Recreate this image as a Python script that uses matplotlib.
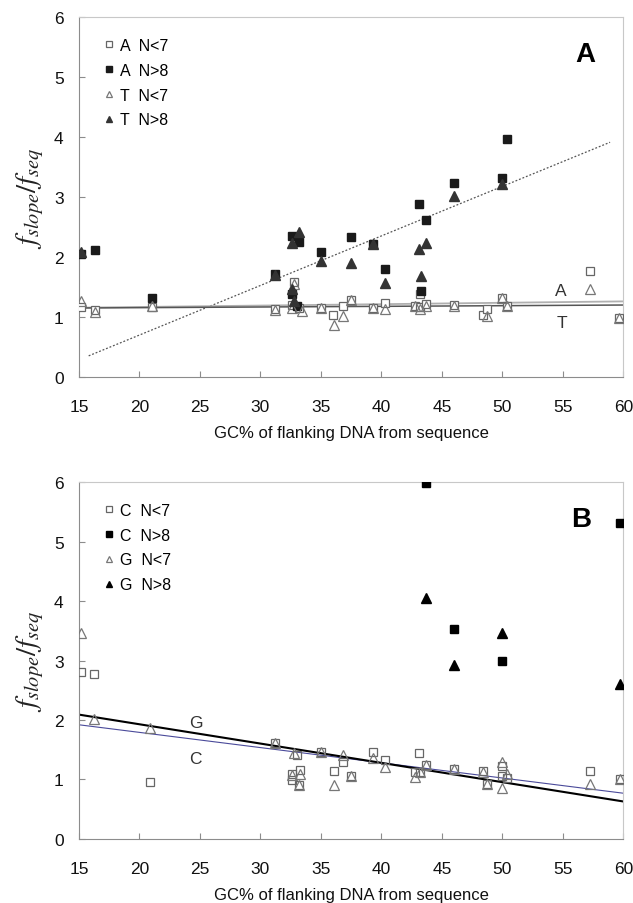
import numpy as np
import matplotlib
matplotlib.use('Agg')
import matplotlib.pyplot as plt

plt.rcParams['font.family'] = ['Liberation Sans', 'DejaVu Sans']
plt.rcParams['mathtext.fontset'] = 'stix'

### panel A data (x = GC%, y = fslope/fseq)
a_low_x = [15.2, 16.3, 21.0, 31.2, 32.6, 32.8, 33.2, 35.0, 36.0, 36.8, 37.5, 39.3, 40.3, 42.8, 43.2, 43.2, 43.7, 46.0, 48.4, 48.7, 50.0, 50.4, 57.2, 59.6]
a_low_y = [1.16, 1.12, 1.16, 1.13, 1.20, 1.58, 1.15, 1.15, 1.04, 1.19, 1.28, 1.15, 1.24, 1.19, 1.38, 1.17, 1.21, 1.20, 1.03, 1.14, 1.32, 1.19, 1.76, 0.98]
t_low_x = [15.2, 16.3, 21.0, 31.2, 32.6, 32.8, 33.4, 35.0, 36.1, 36.8, 37.5, 39.3, 40.3, 42.8, 43.2, 43.7, 46.0, 48.7, 50.0, 50.4, 57.2, 59.6]
t_low_y = [1.26, 1.09, 1.18, 1.12, 1.15, 1.55, 1.10, 1.15, 0.87, 1.02, 1.28, 1.15, 1.14, 1.18, 1.14, 1.19, 1.19, 1.01, 1.31, 1.18, 1.47, 0.98]
a_high_x = [15.2, 16.3, 21.0, 31.2, 32.6, 32.6, 33.0, 33.2, 35.0, 37.5, 39.3, 40.3, 43.1, 43.3, 43.7, 46.0, 50.0, 50.4]
a_high_y = [2.05, 2.11, 1.32, 1.72, 2.35, 1.38, 1.19, 2.25, 2.08, 2.33, 2.21, 1.80, 2.89, 1.44, 2.62, 3.23, 3.32, 3.97]
t_high_x = [15.2, 31.2, 32.6, 32.6, 32.8, 33.2, 35.0, 37.5, 39.3, 40.3, 43.1, 43.3, 43.7, 46.0, 50.0]
t_high_y = [2.08, 1.70, 2.23, 1.47, 1.27, 2.41, 1.93, 1.90, 2.21, 1.57, 2.13, 1.68, 2.24, 3.01, 3.21]

# trend lines (slope, intercept)
a_fit = (0.00233, 1.12)
t_fit = (0.0011, 1.133)
high_fit = (0.0826, -0.953)
high_fit_range = (15.8, 58.9)

### panel B data
c_low_x = [15.2, 16.2, 20.9, 31.2, 32.6, 32.6, 33.0, 33.3, 33.2, 35.0, 36.1, 36.8, 37.5, 39.3, 40.3, 42.8, 43.1, 43.2, 43.7, 46.0, 48.4, 48.7, 50.0, 50.0, 50.4, 57.2, 59.7]
c_low_y = [2.81, 2.77, 0.95, 1.62, 1.09, 0.99, 1.42, 1.16, 0.91, 1.46, 1.14, 1.29, 1.06, 1.47, 1.33, 1.13, 1.44, 1.12, 1.25, 1.18, 1.14, 0.92, 1.22, 1.06, 1.02, 1.14, 1.01]
g_low_x = [15.2, 16.2, 20.9, 31.2, 32.6, 32.8, 33.3, 33.2, 35.0, 36.1, 36.8, 37.5, 39.3, 40.3, 42.8, 43.2, 43.7, 46.0, 48.4, 48.7, 50.0, 50.0, 50.4, 57.2, 59.7]
g_low_y = [3.46, 2.02, 1.86, 1.62, 1.08, 1.44, 1.10, 0.91, 1.46, 0.90, 1.41, 1.06, 1.36, 1.21, 1.04, 1.12, 1.25, 1.18, 1.12, 0.92, 1.29, 0.85, 1.10, 0.92, 1.01]
c_high_x = [43.7, 46.0, 50.0, 59.7]
c_high_y = [5.98, 3.53, 3.00, 5.31]
g_high_x = [43.7, 46.0, 50.0, 59.7]
g_high_y = [4.05, 2.93, 3.46, 2.60]

g_fit = (-0.03244, 2.577)
c_fit = (-0.02556, 2.303)

xticks = [15, 20, 25, 30, 35, 40, 45, 50, 55, 60]
yticks = [0, 1, 2, 3, 4, 5, 6]


def style_axes(ax):
    ax.set_xlim(15, 60)
    ax.set_ylim(0, 6)
    ax.set_xticks(xticks)
    ax.set_yticks(yticks)
    for side in ['left', 'bottom']:
        ax.spines[side].set_color('#8c8c8c')
    for side in ['top', 'right']:
        ax.spines[side].set_color('#c8c8c8')
    ax.tick_params(axis='both', direction='in', length=4, color='#8c8c8c',
                   labelsize=12.5, labelcolor='#111111')
    ax.tick_params(axis='x', pad=16)
    ax.tick_params(axis='y', pad=11)
    ax.set_xlabel('GC% of flanking DNA from sequence', fontsize=12, labelpad=8, color='#111111')
    ax.set_ylabel(r'$f_{slope}/f_{seq}$', fontsize=21, labelpad=6, color='#222222')


def fit_line(ax, fit, x0=15, x1=60, **kw):
    xs = np.array([x0, x1])
    ax.plot(xs, fit[0] * xs + fit[1], **kw)


fig = plt.figure(figsize=(6.33, 9.04), dpi=100)
axA = fig.add_axes([0.1248, 0.5819, 0.860, 0.3982])
axB = fig.add_axes([0.1248, 0.0708, 0.860, 0.3949])

### panel A
fit_line(axA, high_fit, *high_fit_range, color='#555555', lw=0.9, ls=(0, (1.5, 1.5)), zorder=1)
fit_line(axA, a_fit, color='#b0b0b0', lw=1.3, zorder=1)
fit_line(axA, t_fit, color='#555555', lw=1.1, zorder=1)
axA.plot(a_low_x, a_low_y, 's', ms=6, mfc='white', mec='#666666', mew=0.9, label='A  N<7', zorder=3)
axA.plot(a_high_x, a_high_y, 's', ms=6, mfc='#1a1a1a', mec='#1a1a1a', label='A  N>8', zorder=3)
axA.plot(t_low_x, t_low_y, '^', ms=6.5, mfc='none', mec='#777777', mew=0.9, label='T  N<7', zorder=4)
axA.plot(t_high_x, t_high_y, '^', ms=6.5, mfc='#333333', mec='#333333', label='T  N>8', zorder=4)
axA.text(54.8, 1.44, 'A', fontsize=12.5, color='#333333', ha='center', va='center')
axA.text(54.9, 0.91, 'T', fontsize=12.5, color='#333333', ha='center', va='center')
axA.text(56.85, 5.38, 'A', fontsize=20, fontweight='bold', ha='center', va='center')
style_axes(axA)
axA.legend(loc='upper left', bbox_to_anchor=(0.035, 0.96), frameon=False, fontsize=11.5,
           handlelength=0.6, handletextpad=0.4, labelspacing=0.62, markerscale=0.7,
           borderaxespad=0)

### panel B
fit_line(axB, c_fit, color='#4a4a9a', lw=0.8, zorder=1)
fit_line(axB, g_fit, color='#000000', lw=1.5, zorder=1)
axB.plot(c_low_x, c_low_y, 's', ms=6, mfc='none', mec='#666666', mew=0.9, label='C  N<7', zorder=3)
axB.plot(c_high_x, c_high_y, 's', ms=6, mfc='black', mec='black', label='C  N>8', zorder=3)
axB.plot(g_low_x, g_low_y, '^', ms=6.5, mfc='none', mec='#777777', mew=0.9, label='G  N<7', zorder=4)
axB.plot(g_high_x, g_high_y, '^', ms=6.5, mfc='black', mec='black', label='G  N>8', zorder=4)
axB.text(24.7, 1.96, 'G', fontsize=12.5, color='#333333', ha='center', va='center')
axB.text(24.6, 1.36, 'C', fontsize=12.5, color='#333333', ha='center', va='center')
axB.text(56.5, 5.38, 'B', fontsize=20, fontweight='bold', ha='center', va='center')
style_axes(axB)
axB.legend(loc='upper left', bbox_to_anchor=(0.035, 0.96), frameon=False, fontsize=11.5,
           handlelength=0.6, handletextpad=0.4, labelspacing=0.62, markerscale=0.7,
           borderaxespad=0)

fig.savefig('out.png', dpi=100)
